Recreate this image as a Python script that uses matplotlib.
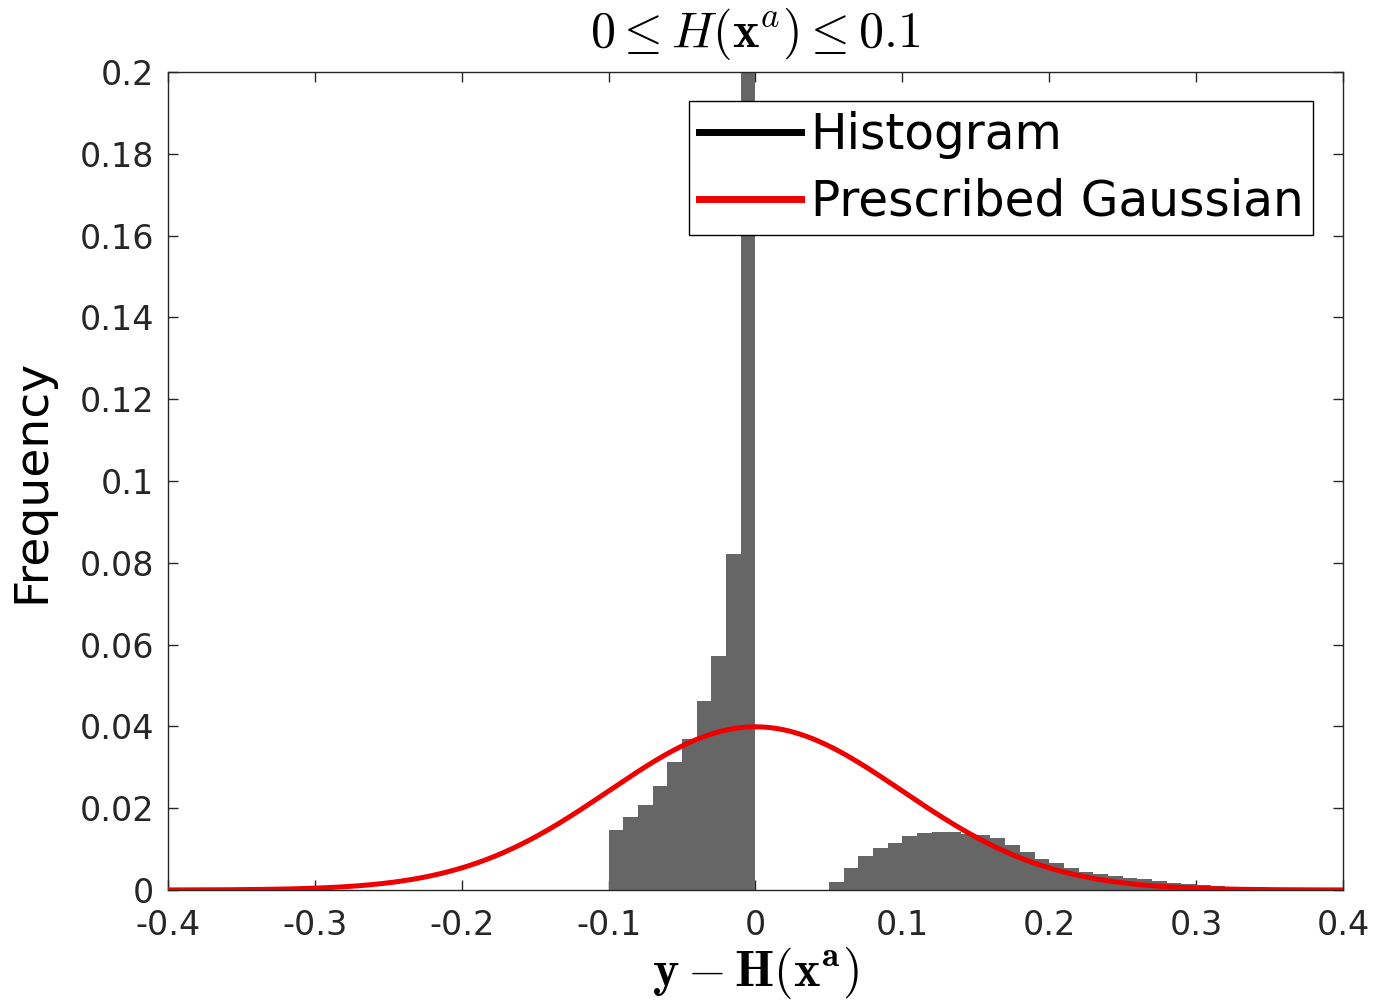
import numpy as np
import matplotlib
matplotlib.use("Agg")
import matplotlib.pyplot as plt
from matplotlib.lines import Line2D

# Histogram bins (left edges, width 0.01) and frequencies
left_edges = [-0.10, -0.09, -0.08, -0.07, -0.06, -0.05, -0.04, -0.03, -0.02, -0.01,
              0.05, 0.06, 0.07, 0.08, 0.09, 0.10, 0.11, 0.12, 0.13, 0.14,
              0.15, 0.16, 0.17, 0.18, 0.19, 0.20, 0.21, 0.22, 0.23, 0.24,
              0.25, 0.26, 0.27, 0.28, 0.29, 0.30, 0.31, 0.32, 0.33]
frequencies = [0.0147, 0.0178, 0.0209, 0.0255, 0.0312, 0.0369, 0.0461, 0.0573, 0.0821, 0.35,
               0.0020, 0.0053, 0.0083, 0.0102, 0.0116, 0.0132, 0.0140, 0.0141, 0.0141, 0.0138,
               0.0134, 0.0126, 0.0110, 0.0094, 0.0075, 0.0067, 0.0053, 0.0045, 0.0040, 0.0035,
               0.0030, 0.0026, 0.0022, 0.0018, 0.0015, 0.0012, 0.0010, 0.0008, 0.0006]
bin_width = 0.01

# Prescribed Gaussian: mean 0, std 0.1, scaled by bin width
gauss_mean = 0.0
gauss_std = 0.1

x_ticks = [-0.4, -0.3, -0.2, -0.1, 0, 0.1, 0.2, 0.3, 0.4]
x_ticklabels = ["-0.4", "-0.3", "-0.2", "-0.1", "0", "0.1", "0.2", "0.3", "0.4"]
y_ticks = [0, 0.02, 0.04, 0.06, 0.08, 0.1, 0.12, 0.14, 0.16, 0.18, 0.2]
y_ticklabels = ["0", "0.02", "0.04", "0.06", "0.08", "0.1", "0.12", "0.14", "0.16", "0.18", "0.2"]
legend_labels = ['Histogram', 'Prescribed Gaussian']

plt.rcParams['font.family'] = ['DejaVu Sans']
plt.rcParams['mathtext.fontset'] = 'cm'

fig = plt.figure(figsize=(13.74, 10.01), dpi=100)
ax = fig.add_axes([0.1223, 0.1109, 0.9774 - 0.1223, 0.9281 - 0.1109])

ax.bar(left_edges, frequencies, width=bin_width, align='edge',
       color='#666666', edgecolor='none', zorder=2)

xs = np.linspace(-0.4, 0.4, 801)
gy = bin_width * np.exp(-0.5 * ((xs - gauss_mean) / gauss_std) ** 2) / (gauss_std * np.sqrt(2 * np.pi))
ax.plot(xs, gy, color='#ee0000', lw=3.6, zorder=3, solid_capstyle='butt')

ax.set_xlim(-0.4, 0.4)
ax.set_ylim(0, 0.2)
ax.set_xticks(x_ticks)
ax.set_xticklabels(x_ticklabels)
ax.set_yticks(y_ticks)
ax.set_yticklabels(y_ticklabels)
ax.tick_params(direction='in', length=7, width=1, top=True, right=True,
               labelsize=24, colors='#262626')
ax.tick_params(axis='x', pad=14)
ax.tick_params(axis='y', pad=10)
for s in ax.spines.values():
    s.set_color('#262626')
    s.set_linewidth(1)

ax.set_title(r'$0 \leq H(\mathbf{x}^{a}) \leq 0.1$', fontsize=36, pad=18)
ax.set_xlabel(r'$\mathbf{y} - \mathbf{H}(\mathbf{x}^{\mathbf{a}})$', fontsize=36, labelpad=2)
ax.set_ylabel('Frequency', fontsize=34, labelpad=18)

handles = [Line2D([], [], color='black', lw=5),
           Line2D([], [], color='#ee0000', lw=5)]
leg = ax.legend(handles, legend_labels, loc='upper right', fontsize=35,
                bbox_to_anchor=(0.9745, 0.964), frameon=True, fancybox=False,
                edgecolor='black', framealpha=1, handlelength=2.1, handletextpad=0.2,
                borderpad=0.2, labelspacing=0.38, borderaxespad=0,
                handleheight=0.7)
leg.get_frame().set_linewidth(1)
leg.set_zorder(5)

fig.savefig('out.png', dpi=100)
